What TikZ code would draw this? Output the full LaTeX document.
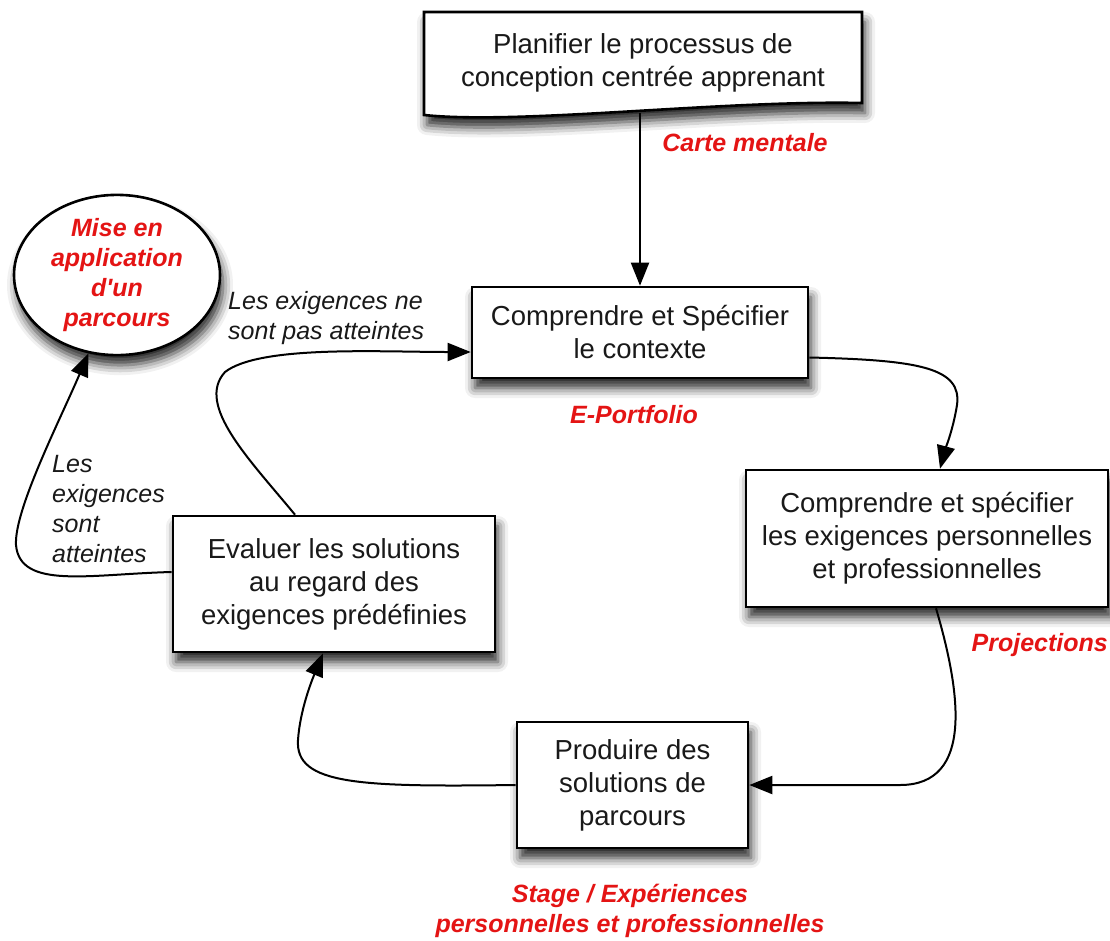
\documentclass[tikz,border=0pt]{standalone}
\usepackage{fontspec}
\setmainfont{Liberation Sans}[Ligatures=TeXOff]
\usetikzlibrary{arrows.meta,calc,shapes.geometric,shadows.blur}
\definecolor{lblred}{RGB}{228,20,20}
\definecolor{txtgray}{RGB}{25,25,25}
\begin{document}
\begin{tikzpicture}[x=1pt,y=-1pt,
  shd/.style={blur shadow={shadow xshift=3pt, shadow yshift=-10pt, shadow blur radius=10pt, shadow opacity=85}},
  box/.style={draw, line width=2.6pt, fill=white, align=center, text=txtgray,
    font=\fontsize{27.5}{33}\selectfont, inner sep=0pt, shd},
  conn/.style={line width=2pt, -{Triangle[length=23pt,width=18pt,fill=black]}},
  redlbl/.style={text=lblred, font=\fontsize{25}{30}\selectfont\bfseries\itshape, align=center, inner sep=0pt},
  edgelbl/.style={font=\fontsize{25}{30}\selectfont\itshape, align=left, inner sep=0pt, text=txtgray}]
\useasboundingbox (0,0) rectangle (1110,940);

% document shape
\draw[line width=2.6pt, fill=white, shd] (424,12) -- (862,12) -- (862,103)
  .. controls (720,100) and (520,125) .. (424,115) -- cycle;
\node[font=\fontsize{27.5}{33}\selectfont, align=center, text=txtgray, inner sep=0pt] (plan) at (643,63)
  {Planifier le processus de\\conception centrée apprenant};
\coordinate (planb) at (640,113);

\node[box, minimum width=336pt, minimum height=91pt] (ctx) at (640,332.5) {Comprendre et Spécifier\\le contexte};
\node[box, minimum width=362pt, minimum height=137pt] (req) at (927,538.5) {Comprendre et spécifier\\les exigences personnelles\\et professionnelles};
\node[box, minimum width=231pt, minimum height=126pt] (prod) at (632.5,785) {Produire des\\solutions de\\parcours};
\node[box, minimum width=322pt, minimum height=136pt] (eval) at (334,584) {Evaluer les solutions\\au regard des\\exigences prédéfinies};
\node[ellipse, draw, line width=2.6pt, fill=white, minimum width=206pt, minimum height=160pt, shd, redlbl] (ell) at (117,275)
  {Mise en\\application\\d'un\\parcours};

\node[redlbl] (lcarte) at (745,143) {Carte mentale};
\node[redlbl] (lport) at (634,415) {E-Portfolio};
\node[redlbl, anchor=east] (lproj) at (1108,645) {Projections};
\node[redlbl] (lstage) at (630,911) {Stage / Expériences\\personnelles et professionnelles};
\node[edgelbl, anchor=west] (lnot) at (228,318) {Les exigences ne\\sont pas atteintes};
\node[edgelbl, anchor=west] (lyes) at (52,509) {Les\\exigences\\sont\\atteintes};

\draw[conn] (planb) -- (ctx.north);
\draw[conn] ($(ctx.east)+(0,25)$) .. controls (920,360) and (962,368) .. (957,405)
  .. controls (953,430) and (945,450) .. ($(req.north)+(13,0)$);
\draw[conn] ($(req.south)+(9,0)$) .. controls (960,690) and (975,785) .. (900,785) -- (prod.east);
\draw[conn] (prod.west) .. controls (360,787) and (295,785) .. (298,740)
  .. controls (300,710) and (312,680) .. ($(eval.south)+(-11,0)$);
\draw[conn] ($(eval.north)+(-39,0)$) .. controls (250,460) and (195,405) .. (225,372)
  .. controls (260,345) and (380,352) .. ($(ctx.west)+(0,19.5)$);
\draw[conn] ($(eval.west)+(0,-12)$) .. controls (90,574) and (20,590) .. (16,545)
  .. controls (14,510) and (60,420) .. (ell.250);
\end{tikzpicture}
\end{document}
